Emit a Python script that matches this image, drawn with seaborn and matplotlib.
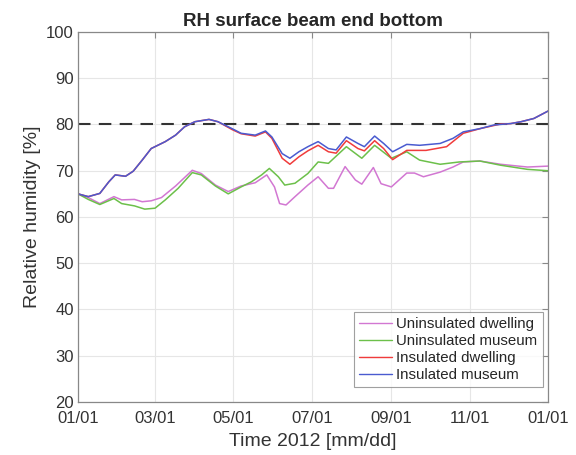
import pandas as pd
import matplotlib
matplotlib.use("Agg")
import matplotlib.pyplot as plt
import matplotlib.dates as mdates
import seaborn as sns

# day of year 2012 and RH [%]
pink_days = [0, 8, 17, 28, 34, 44, 50, 57, 65, 76, 89, 96, 107, 117, 127, 138, 147, 153, 157, 162,
             169, 179, 187, 195, 199, 208, 216, 221, 230, 236, 244, 256, 262, 269, 282, 292, 300, 313,
             329, 350, 366]
pink_rh = [65.0, 64.2, 62.9, 64.4, 63.7, 63.8, 63.3, 63.5, 64.2, 66.7, 70.1, 69.4, 66.9, 65.5, 66.7,
           67.4, 69.1, 66.5, 62.9, 62.6, 64.4, 66.9, 68.7, 66.2, 66.2, 70.9, 68.0, 67.1, 70.7, 67.2,
           66.5, 69.5, 69.5, 68.7, 69.7, 70.8, 71.9, 72.1, 71.4, 70.8, 71.0]

green_days = [0, 8, 17, 28, 34, 44, 52, 60, 68, 78, 89, 96, 107, 117, 127, 135, 143, 149, 156, 161,
              169, 179, 187, 195, 209, 221, 231, 244, 256, 266, 282, 297, 313, 329, 350, 366]
green_rh = [65.0, 63.8, 62.7, 64.0, 62.9, 62.4, 61.7, 61.9, 63.7, 66.2, 69.6, 69.1, 66.7, 65.0, 66.5,
            67.6, 69.1, 70.5, 68.7, 66.9, 67.3, 69.4, 71.9, 71.6, 75.2, 72.7, 75.5, 72.7, 74.1, 72.3,
            71.4, 71.9, 72.1, 71.2, 70.3, 70.0]

red_days = [0, 8, 17, 24, 29, 37, 43, 50, 57, 68, 76, 83, 91, 102, 109, 120, 127, 138, 146, 151,
            159, 165, 172, 179, 187, 195, 201, 209, 218, 223, 231, 238, 245, 256, 271, 287, 300, 313,
            329, 337, 345, 355, 366]
red_rh = [65.0, 64.4, 65.1, 67.6, 69.1, 68.8, 69.9, 72.3, 74.8, 76.3, 77.7, 79.5, 80.6, 81.1, 80.6,
          78.9, 78.0, 77.5, 78.4, 77.0, 72.7, 71.4, 73.0, 74.3, 75.5, 74.1, 73.8, 76.5, 74.8, 74.3,
          76.5, 74.8, 72.4, 74.4, 74.4, 75.2, 78.1, 79.1, 80.1, 80.2, 80.6, 81.3, 82.9]

blue_days = [0, 8, 17, 24, 29, 37, 43, 50, 57, 68, 76, 83, 91, 102, 109, 120, 127, 138, 146, 151,
             159, 165, 172, 179, 187, 195, 201, 209, 218, 223, 231, 238, 245, 256, 266, 282, 292, 300,
             313, 324, 337, 345, 355, 366]
blue_rh = [65.0, 64.4, 65.1, 67.6, 69.1, 68.8, 69.9, 72.3, 74.8, 76.3, 77.7, 79.5, 80.6, 81.1, 80.6,
           79.1, 78.1, 77.7, 78.6, 77.3, 73.7, 72.7, 74.1, 75.2, 76.3, 74.8, 74.5, 77.3, 75.9, 75.2,
           77.5, 75.9, 74.1, 75.7, 75.5, 75.9, 77.0, 78.4, 79.1, 79.9, 80.2, 80.6, 81.3, 82.9]

labels = ["Uninsulated dwelling", "Uninsulated museum", "Insulated dwelling", "Insulated museum"]
colors = ["#d277d2", "#6cc04a", "#f03c3c", "#4a5bd0"]
threshold = 80

start = pd.Timestamp("2012-01-01")


def to_df(days, rh, label):
    return pd.DataFrame({
        "date": start + pd.to_timedelta(days, unit="D"),
        "rh": rh,
        "series": label,
    })


df = pd.concat([
    to_df(pink_days, pink_rh, labels[0]),
    to_df(green_days, green_rh, labels[1]),
    to_df(red_days, red_rh, labels[2]),
    to_df(blue_days, blue_rh, labels[3]),
])

sns.set_style("white")
plt.rcParams["font.family"] = ["Liberation Sans", "DejaVu Sans"]

fig = plt.figure(figsize=(5.76, 4.55), dpi=100)
ax = fig.add_axes([0.1354, 0.1165, 0.816, 0.8132])

sns.lineplot(data=df, x="date", y="rh", hue="series", hue_order=labels,
             palette=colors, linewidth=1.1, ax=ax, sort=False)

ax.axhline(threshold, color="#333333", linestyle=(0, (6, 4)), linewidth=1.5, zorder=1)

ax.set_xlim(start, pd.Timestamp("2013-01-01"))
ax.set_ylim(20, 100)
ax.set_yticks(range(20, 101, 10))
ticks = [pd.Timestamp(f"2012-{m:02d}-01") for m in (1, 3, 5, 7, 9, 11)] + [pd.Timestamp("2013-01-01")]
ax.set_xticks(ticks)
ax.xaxis.set_major_formatter(mdates.DateFormatter("%m/%d"))

ax.grid(True, color="#e6e6e6", linewidth=0.8)
ax.set_axisbelow(True)
for s in ax.spines.values():
    s.set_color("#888888")
    s.set_linewidth(0.9)
ax.tick_params(direction="in", length=4, color="#888888", labelsize=12,
               labelcolor="#333333", top=True, right=True)
ax.tick_params(axis="x", pad=6.5)
ax.tick_params(axis="y", pad=3)

ax.set_title("RH surface beam end bottom", fontsize=13.5, fontweight="bold", pad=4)
ax.set_xlabel("Time 2012 [mm/dd]", fontsize=14, color="#333333", labelpad=5)
ax.set_ylabel("Relative humidity [%]", fontsize=14, color="#333333", labelpad=4)

leg = ax.legend(loc="lower right", fontsize=10.8, frameon=True, fancybox=False,
                handlelength=2.2, borderpad=0.35, labelspacing=0.2, handletextpad=0.3,
                borderaxespad=0, bbox_to_anchor=(0.989, 0.04))
leg.get_frame().set_edgecolor("#888888")
leg.get_frame().set_linewidth(0.8)
for h in leg.get_lines():
    h.set_linewidth(1.0)

fig.savefig("out.png", dpi=100)
